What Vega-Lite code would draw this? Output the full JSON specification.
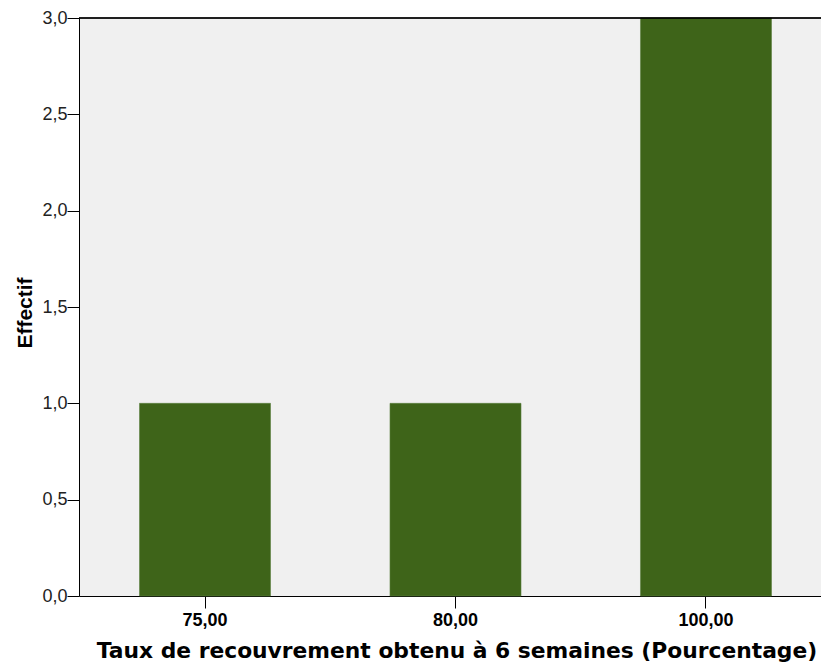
{
  "$schema": "https://vega.github.io/schema/vega-lite/v6.json",
  "width": 742,
  "height": 578,
  "autosize": {"type": "none"},
  "padding": {"left": 79, "top": 18, "right": 0, "bottom": 70},
  "background": "white",
  "config": {
    "view": {"fill": "#f0f0f0", "stroke": null}
  },
  "data": {
    "values": [
      {"taux": "75,00", "effectif": 1},
      {"taux": "80,00", "effectif": 1},
      {"taux": "100,00", "effectif": 3}
    ]
  },
  "layer": [
    {
      "mark": {"type": "bar", "color": "#3e6419", "stroke": "#5d7f3f", "strokeWidth": 0.6},
      "encoding": {
        "x": {
          "field": "taux",
          "type": "nominal",
          "sort": null,
          "scale": {"paddingInner": 0.477, "paddingOuter": 0.2196, "align": 0.55, "round": false},
          "axis": {
            "title": "Taux de recouvrement obtenu à 6 semaines (Pourcentage)",
            "labelAngle": 0,
            "labelFont": "Liberation Sans",
            "labelFontSize": 18,
            "labelFontWeight": "bold",
            "labelColor": "#000",
            "labelPadding": 3,
            "tickSize": 12,
            "tickColor": "#000",
            "domainColor": "#000",
            "titleFont": "DejaVu Sans",
            "titleFontSize": 21.8,
            "titleFontWeight": "bold",
            "titleColor": "#000",
            "titleBaseline": "alphabetic",
            "titleAnchor": "start",
            "titleAlign": "center",
            "titleX": 377.5,
            "titleY": 61
          }
        },
        "y": {
          "field": "effectif",
          "type": "quantitative",
          "scale": {"domain": [0, 3], "nice": false},
          "axis": {
            "title": "Effectif",
            "values": [0, 0.5, 1, 1.5, 2, 2.5, 3],
            "labelExpr": "replace(format(datum.value, '.1f'), '.', ',')",
            "grid": false,
            "labelFont": "Liberation Sans",
            "labelFontSize": 18,
            "labelColor": "#222",
            "labelPadding": 0,
            "tickSize": 12,
            "tickColor": "#000",
            "domainColor": "#000",
            "titleFont": "Liberation Sans",
            "titleFontSize": 21,
            "titleFontWeight": "bold",
            "titleColor": "#000",
            "titleAngle": -90,
            "titleBaseline": "alphabetic",
            "titleAlign": "center",
            "titleAnchor": "start",
            "titleX": -48,
            "titleY": 294.5
          }
        }
      }
    },
    {
      "mark": {"type": "rule", "color": "#000", "strokeWidth": 1},
      "encoding": {"y": {"datum": 3}}
    }
  ]
}
